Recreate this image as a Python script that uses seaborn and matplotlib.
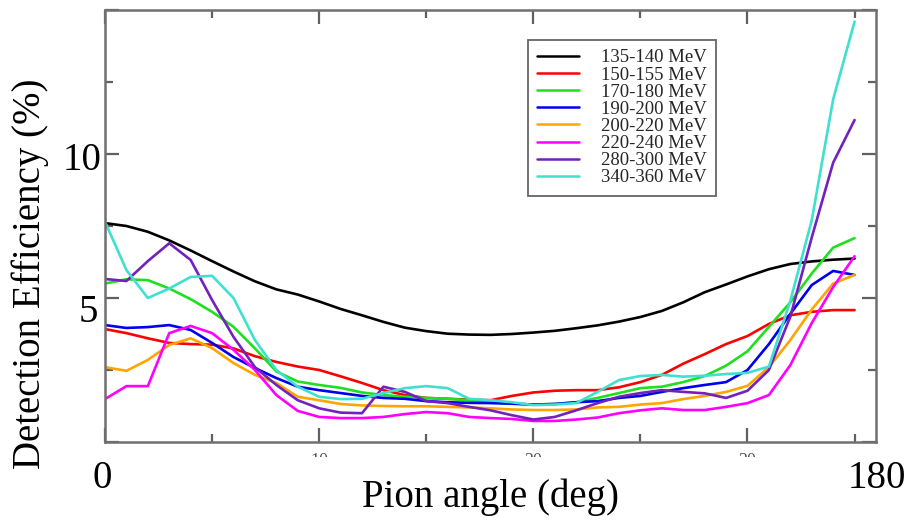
import matplotlib
matplotlib.use("Agg")
import matplotlib.pyplot as plt
from matplotlib.patches import Rectangle
from matplotlib.ticker import MultipleLocator
import numpy as np
import pandas as pd
import seaborn as sns

# Angular bins (0..35) and detection efficiency (%) per pion energy band
bins = list(range(36))

eff_135_140 = [7.6, 7.5, 7.3, 7.0, 6.65, 6.28, 5.92, 5.58, 5.3, 5.12, 4.88, 4.62, 4.4, 4.17, 3.97, 3.85, 3.76, 3.73,
               3.72, 3.75, 3.8, 3.86, 3.95, 4.05, 4.18, 4.34, 4.55, 4.85, 5.2, 5.47, 5.75, 6.0, 6.18, 6.27, 6.33, 6.37]
eff_150_155 = [3.92, 3.78, 3.6, 3.44, 3.4, 3.38, 3.25, 2.98, 2.78, 2.62, 2.5, 2.28, 2.05, 1.8, 1.63, 1.53, 1.5, 1.47,
               1.45, 1.6, 1.72, 1.78, 1.8, 1.8, 1.9, 2.08, 2.33, 2.72, 3.05, 3.4, 3.68, 4.1, 4.4, 4.52, 4.58, 4.58]
eff_170_180 = [5.5, 5.65, 5.62, 5.33, 4.96, 4.52, 4.0, 3.25, 2.45, 2.1, 1.98, 1.88, 1.72, 1.63, 1.57, 1.53, 1.5, 1.45,
               1.38, 1.33, 1.3, 1.32, 1.38, 1.53, 1.7, 1.87, 1.92, 2.08, 2.29, 2.65, 3.15, 4.0, 4.85, 5.85, 6.75, 7.08]
eff_190_200 = [4.06, 3.96, 3.99, 4.06, 3.89, 3.44, 2.95, 2.57, 2.22, 1.92, 1.8, 1.7, 1.6, 1.53, 1.5, 1.42, 1.38, 1.36,
               1.35, 1.33, 1.3, 1.32, 1.38, 1.42, 1.53, 1.6, 1.74, 1.87, 1.98, 2.08, 2.5, 3.4, 4.45, 5.45, 5.94, 5.8]
eff_200_220 = [2.6, 2.47, 2.85, 3.37, 3.6, 3.26, 2.74, 2.33, 2.05, 1.57, 1.45, 1.32, 1.27, 1.25, 1.24, 1.24, 1.22, 1.2,
               1.17, 1.13, 1.11, 1.11, 1.13, 1.2, 1.22, 1.3, 1.35, 1.49, 1.6, 1.74, 1.95, 2.6, 3.54, 4.6, 5.5, 5.8]
eff_220_240 = [1.49, 1.94, 1.94, 3.78, 4.03, 3.78, 3.2, 2.5, 1.63, 1.08, 0.87, 0.83, 0.83, 0.87, 0.97, 1.04, 1.0, 0.87,
               0.83, 0.8, 0.73, 0.73, 0.78, 0.85, 1.0, 1.1, 1.17, 1.11, 1.11, 1.22, 1.35, 1.63, 2.67, 4.13, 5.38, 6.45]
eff_280_300 = [5.66, 5.59, 6.28, 6.9, 6.32, 4.93, 3.65, 2.6, 1.98, 1.45, 1.17, 1.02, 1.0, 1.92, 1.74, 1.42, 1.35, 1.22,
               1.1, 0.93, 0.78, 0.87, 1.1, 1.35, 1.57, 1.7, 1.8, 1.74, 1.69, 1.53, 1.78, 2.5, 4.35, 7.1, 9.7, 11.18]
eff_340_360 = [7.65, 5.97, 5.0, 5.33, 5.73, 5.77, 5.0, 3.54, 2.5, 1.92, 1.57, 1.49, 1.5, 1.7, 1.87, 1.94, 1.87, 1.5,
               1.45, 1.38, 1.28, 1.3, 1.35, 1.74, 2.15, 2.29, 2.33, 2.27, 2.3, 2.36, 2.4, 2.62, 4.9, 7.7, 11.9, 14.6]

bands = ["135-140 MeV", "150-155 MeV", "170-180 MeV", "190-200 MeV",
         "200-220 MeV", "220-240 MeV", "280-300 MeV", "340-360 MeV"]
series = [eff_135_140, eff_150_155, eff_170_180, eff_190_200,
          eff_200_220, eff_220_240, eff_280_300, eff_340_360]
colors = ["#000000", "#ff0000", "#1ee01e", "#0000f0",
          "#ffa500", "#ff00ff", "#7221bc", "#40e0d0"]

df = pd.DataFrame({
    "bin": np.tile(bins, len(bands)),
    "eff": np.concatenate(series),
    "band": np.repeat(bands, len(bins)),
})

sns.set_style("ticks")
plt.rcParams["font.family"] = ["Liberation Serif", "DejaVu Serif"]

W, H = 910, 520
fig = plt.figure(figsize=(W / 100, H / 100), dpi=100)
fig.patch.set_facecolor("white")
ax = fig.add_axes([105 / W, 1 - 442 / H, (876 - 105) / W, (442 - 10) / H])

sns.lineplot(data=df, x="bin", y="eff", hue="band", hue_order=bands,
             palette=dict(zip(bands, colors)), linewidth=1.9, ax=ax,
             estimator=None, sort=False, legend=False)

ax.set_xlim(0, 36)
ax.set_ylim(0, 15)
ax.set_xlabel("")
ax.set_ylabel("")

ax.xaxis.set_major_locator(MultipleLocator(10))
ax.xaxis.set_minor_locator(MultipleLocator(5))
ax.yaxis.set_major_locator(MultipleLocator(5))
ax.yaxis.set_minor_locator(MultipleLocator(2.5))
ax.set_xticks([0, 10, 20, 30])
ax.set_xticklabels(["", "10", "20", "30"])
ax.set_yticklabels([])
ax.tick_params(which="both", direction="in", top=True, right=True,
               color="#606060", width=1.6, labelsize=13, labelcolor="#555555", pad=8)
ax.tick_params(which="major", length=10)
ax.tick_params(which="minor", length=6)
for sp in ax.spines.values():
    sp.set_visible(True)
    sp.set_color("#707070")
    sp.set_linewidth(1.8)

handles = [plt.Line2D([], [], color=c, lw=1.8) for c in colors]
leg = ax.legend(handles, bands, loc="upper left",
                bbox_to_anchor=((528 - 105) / 771, (442 - 40) / 432),
                borderaxespad=0, fontsize=13.5, handlelength=2.2, handletextpad=1.2,
                labelspacing=0.0, borderpad=0.5, frameon=True, fancybox=False)
leg.get_frame().set_edgecolor("#404040")
leg.get_frame().set_linewidth(1.3)

# lower part of the small tick labels is hidden under a white band
fig.add_artist(Rectangle((250 / W, 0), 600 / W, (H - 457) / H,
                         transform=fig.transFigure, facecolor="white",
                         edgecolor="none", zorder=2.5))

big = dict(fontsize=28, color="black", zorder=3)
fig.text(82 / W, 1 - 160 / H, "10", ha="center", va="center", **big)
fig.text(88 / W, 1 - 312 / H, "5", ha="center", va="center", **big)
fig.text(102 / W, 1 - 478 / H, "0", ha="center", va="center", **big)
fig.text(877 / W, 1 - 478 / H, "180", ha="center", va="center", **big)
fig.text(490 / W, 1 - 497 / H, "Pion angle (deg)", ha="center", va="center", **big)
fig.text(30 / W, 1 - 274 / H, "Detection Efficiency (%)", ha="center", va="center",
         rotation=90, **big)

fig.savefig("out.png", dpi=100)
